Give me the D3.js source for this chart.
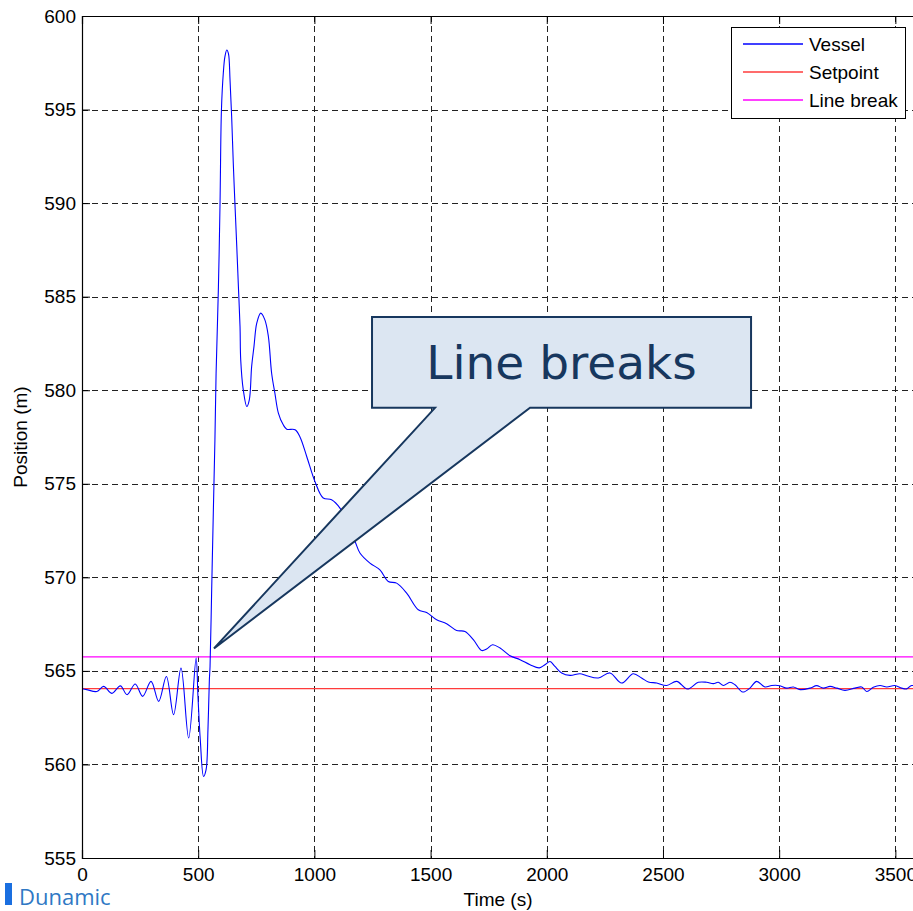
<!DOCTYPE html>
<head>
  <meta charset="utf-8">
  <style>
    body { margin: 0; background: #fff; }
    svg { display: block; }
    .tick-label, .axis-label, .legend text {
      font-family: "Liberation Sans", Arial, Helvetica, sans-serif;
      font-size: 19px;
      fill: #000;
    }
    .grid line {
      stroke: #222;
      stroke-dasharray: 6,4;
      shape-rendering: crispEdges;
    }
  </style>
  <script src="https://cdnjs.cloudflare.com/ajax/libs/d3/7.8.5/d3.min.js"></script>
</head>
<body>
  <script>

    // time (s) and position (m)
    const vesselTime = [0, 20, 64, 93, 129, 165, 194, 229, 261, 297, 330, 363, 394, 426, 459, 491,
      499, 509, 523, 534, 542, 548, 551, 558, 565, 572, 577, 587, 594, 600, 608, 615, 623, 630,
      637, 644, 651, 658, 666, 673, 680, 683, 694, 709, 720, 730, 740, 752, 769, 787, 802, 816,
      830, 845, 866, 881, 917, 938, 967, 1003, 1038, 1074, 1110, 1175, 1196, 1239, 1282, 1318,
      1354, 1397, 1447, 1483, 1526, 1569, 1612, 1648, 1684, 1720, 1741, 1767, 1799, 1842, 1885,
      1928, 1968, 1992, 2014, 2035, 2064, 2100, 2143, 2172, 2222, 2272, 2322, 2372, 2408, 2437,
      2473, 2516, 2559, 2605, 2652, 2688, 2717, 2738, 2760, 2788, 2810, 2843, 2874, 2903, 2939,
      2968, 3003, 3032, 3061, 3090, 3133, 3161, 3190, 3219, 3248, 3283, 3326, 3355, 3377, 3405,
      3434, 3463, 3498, 3527, 3549, 3570, 3600];
    const vesselPos = [564.05, 564.0, 563.9, 564.17, 563.8, 564.2, 563.73, 564.3, 563.64, 564.44,
      563.37, 564.7, 562.66, 565.15, 561.41, 565.69,
      563.64, 561.32, 559.36, 559.72, 561.86, 564.5, 565.23, 569.34, 573.43, 577.35, 580.91, 585.5,
      590.0, 594.98, 596.94, 597.83, 598.18, 598.0,
      596.58, 594.62, 592.13, 590.0, 587.68, 585.54, 583.4, 581.62, 580.02, 579.13, 579.49, 581.27,
      582.33, 583.58, 584.12, 583.76, 582.87, 580.91,
      579.84, 578.78, 578.15, 577.92, 577.89, 577.5, 576.46, 575.1, 574.24, 574.15, 573.7, 571.92,
      571.3, 570.76, 570.4, 569.78,
      569.69, 569.16, 568.27, 568.12, 567.73, 567.52, 567.16, 567.11, 566.67, 566.09, 566.17, 566.4,
      566.22, 565.81, 565.6,
      565.33, 565.16, 565.33, 565.5, 565.24, 564.89, 564.76, 564.85, 564.74, 564.62, 564.89, 564.35,
      564.85, 564.62, 564.41,
      564.35, 564.22, 564.44, 564.03, 564.39, 564.39, 564.32, 564.39, 564.22, 564.39, 564.26, 563.87,
      564.08, 564.44, 564.14,
      564.22, 564.21, 564.08, 564.14, 564.0, 564.08, 564.21, 564.08, 564.17, 564.08, 563.96, 564.08,
      564.14, 563.9, 564.12,
      564.22, 564.14, 564.22, 564.08, 564.04, 564.22, 564.1];

    const setpoint = 564.05;
    const lineBreak = 565.75;

    const xTicks = [0, 500, 1000, 1500, 2000, 2500, 3000, 3500];
    const yTicks = [555, 560, 565, 570, 575, 580, 585, 590, 595, 600];

    const legendNames = ['Vessel', 'Setpoint', 'Line break'];
    const legendColors = ['#0000ff', '#ff3b3b', '#ff00ff'];

    // callout outline in data units (time, position)
    const calloutShape = [[1248, 583.92], [2879, 583.92], [2879, 579.06], [1928, 579.06],
      [568, 566.2], [1519, 579.06], [1248, 579.06]];
    const calloutText = 'Line breaks';

    const w = 913, h = 911;
    const margin = {top: 16, left: 82, bottom: 53};
    const plotW = 836.6;
    const plotH = h - margin.top - margin.bottom;

    const svg = d3.select('body').append('svg')
          .attr('width', w)
          .attr('height', h);

    const xScale = d3.scaleLinear()
                    .domain([0, 3600])
                    .range([margin.left, margin.left + plotW]);

    const yScale = d3.scaleLinear()
                    .domain([555, 600])
                    .range([margin.top + plotH, margin.top]);

    svg.append('clipPath')
       .attr('id', 'plot-area')
       .append('rect')
       .attr('x', margin.left)
       .attr('y', margin.top)
       .attr('width', plotW)
       .attr('height', plotH);

    // grid
    const grid = svg.append('g').attr('class', 'grid');
    grid.selectAll('.gx')
        .data(xTicks.filter(d => d > 0))
        .enter().append('line')
        .attr('class', 'gx')
        .attr('x1', d => Math.round(xScale(d)) + 0.5)
        .attr('x2', d => Math.round(xScale(d)) + 0.5)
        .attr('y1', margin.top)
        .attr('y2', margin.top + plotH);
    grid.selectAll('.gy')
        .data(yTicks.filter(d => d > 555 && d < 600))
        .enter().append('line')
        .attr('class', 'gy')
        .attr('x1', margin.left)
        .attr('x2', margin.left + plotW)
        .attr('y1', d => Math.round(yScale(d)) + 0.5)
        .attr('y2', d => Math.round(yScale(d)) + 0.5);

    const lines = svg.append('g').attr('clip-path', 'url(#plot-area)');

    lines.append('line')
         .attr('x1', xScale(0)).attr('x2', xScale(3600))
         .attr('y1', yScale(lineBreak)).attr('y2', yScale(lineBreak))
         .attr('stroke', legendColors[2])
         .attr('stroke-width', 1.2);

    lines.append('line')
         .attr('x1', xScale(0)).attr('x2', xScale(3600))
         .attr('y1', yScale(setpoint)).attr('y2', yScale(setpoint))
         .attr('stroke', legendColors[1])
         .attr('stroke-width', 1.3);

    const line = d3.line()
                   .x((d, i) => xScale(vesselTime[i]))
                   .y(d => yScale(d))
                   .curve(d3.curveCatmullRom.alpha(0.5));

    lines.append('path')
         .datum(vesselPos)
         .attr('d', line)
         .attr('fill', 'none')
         .attr('stroke', legendColors[0])
         .attr('stroke-width', 1.1)
         .attr('stroke-linejoin', 'round');

    // axes (ticks point inward, matlab style)
    const xAxis = d3.axisBottom(xScale).tickValues(xTicks).tickSize(-8).tickPadding(10)
                    .tickFormat(d3.format('d'));
    const gx = svg.append('g')
       .attr('transform', `translate(0, ${margin.top + plotH})`)
       .call(xAxis);
    const yAxis = d3.axisLeft(yScale).tickValues(yTicks).tickSize(-8).tickPadding(6)
                    .tickFormat(d3.format('d'));
    const gy = svg.append('g')
       .attr('transform', `translate(${margin.left}, 0)`)
       .call(yAxis);
    const xTop = d3.axisTop(xScale).tickValues(xTicks).tickSize(-8).tickFormat('');
    const gt = svg.append('g')
       .attr('transform', `translate(0, ${margin.top})`)
       .call(xTop);

    [gx, gy, gt].forEach(g => {
      g.select('.domain').attr('stroke', '#000').attr('stroke-width', 1.2);
      g.selectAll('.tick line').attr('stroke', '#000');
      g.selectAll('.tick text')
       .attr('class', 'tick-label')
       .attr('font-family', null)
       .attr('font-size', null);
    });
    gx.selectAll('.tick text').attr('text-anchor', 'middle');

    svg.append('text')
       .attr('class', 'axis-label')
       .attr('x', 498)
       .attr('y', 906)
       .attr('text-anchor', 'middle')
       .text('Time (s)');

    svg.append('text')
       .attr('class', 'axis-label')
       .attr('transform', `translate(27, ${margin.top + plotH / 2}) rotate(-90)`)
       .attr('text-anchor', 'middle')
       .text('Position (m)');

    // callout
    const callout = d3.line()
                      .x(d => xScale(d[0]))
                      .y(d => yScale(d[1]));
    svg.append('path')
       .datum(calloutShape)
       .attr('d', d => callout(d) + 'Z')
       .attr('fill', '#dce6f2')
       .attr('stroke', '#17375e')
       .attr('stroke-width', 2)
       .attr('stroke-linejoin', 'miter');

    svg.append('text')
       .attr('x', (xScale(calloutShape[0][0]) + xScale(calloutShape[1][0])) / 2)
       .attr('y', (yScale(calloutShape[0][1]) + yScale(calloutShape[2][1])) / 2 + 17)
       .attr('text-anchor', 'middle')
       .attr('font-family', '"DejaVu Sans", Verdana, sans-serif')
       .attr('font-size', 47)
       .attr('fill', '#17375e')
       .text(calloutText);

    // legend
    const legend = svg.append('g').attr('class', 'legend');
    legend.append('rect')
          .attr('x', 731.5).attr('y', 27.5)
          .attr('width', 174).attr('height', 91)
          .attr('fill', '#fff')
          .attr('stroke', '#000')
          .attr('stroke-width', 1);
    const rows = legend.selectAll('.row')
          .data(legendNames)
          .enter().append('g')
          .attr('class', 'row')
          .attr('transform', (d, i) => `translate(0, ${44 + i * 28})`);
    rows.append('line')
        .attr('x1', 743).attr('x2', 803)
        .attr('y1', 0).attr('y2', 0)
        .attr('stroke', (d, i) => legendColors[i])
        .attr('stroke-width', 1.3);
    rows.append('text')
        .attr('x', 809)
        .attr('y', 7)
        .text(d => d);

    // logo
    svg.append('rect')
       .attr('x', 5).attr('y', 883)
       .attr('width', 7).attr('height', 22)
       .attr('fill', '#1a6fe0');
    svg.append('text')
       .attr('x', 19).attr('y', 905)
       .attr('font-family', '"Open Sans", sans-serif')
       .attr('font-size', 22)
       .attr('fill', '#2f78c4')
       .text('Dunamic');

  </script>
</body>
